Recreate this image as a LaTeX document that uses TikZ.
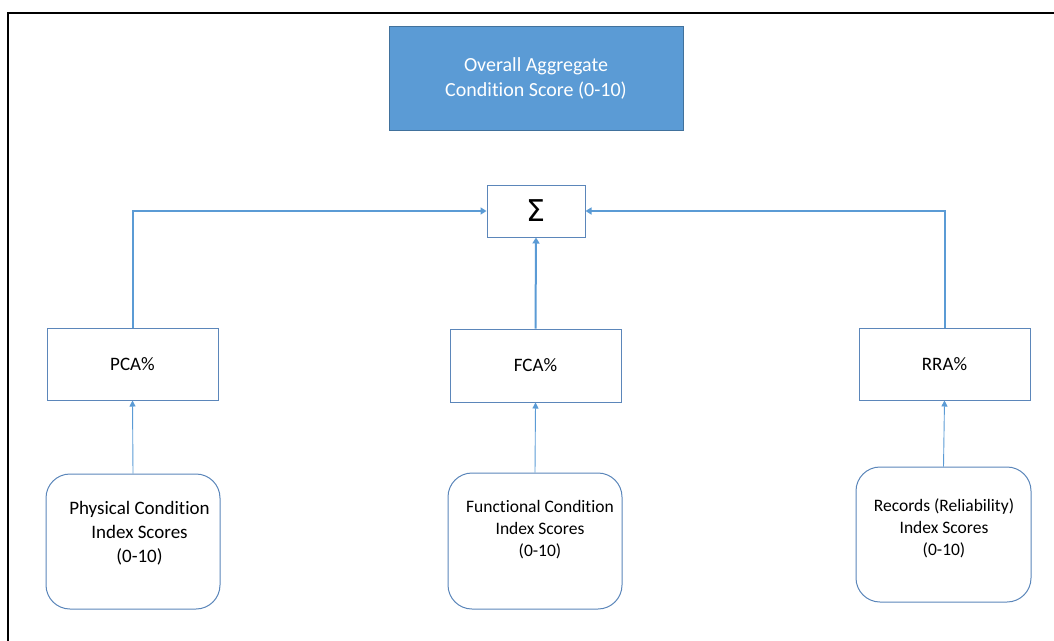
\documentclass[tikz,border=0pt]{standalone}
\usepackage{fontspec}
\setmainfont{Carlito}[Ligatures=NoCommon]
\newfontfamily\sigmafont{DejaVu Sans}
\usetikzlibrary{arrows.meta}
\definecolor{fillblue}{HTML}{5B9BD5}
\definecolor{edgeblue}{HTML}{41719C}
\definecolor{boxedge}{HTML}{5B86BA}
\definecolor{lineblue}{HTML}{5B9BD5}
\tikzset{
  sqbox/.style={draw=boxedge, line width=1pt, fill=white, inner sep=0pt},
  rbox/.style={draw=boxedge, line width=1pt, fill=white, inner sep=0pt, rounded corners=24pt},
  thick link/.style={draw=lineblue, line width=2pt, -{Triangle[length=6pt,width=7pt]}},
  thin link/.style={draw=lineblue, line width=0.9pt, -{Triangle[length=6pt,width=6pt]}},
  txt/.style={align=center, text=black, inner sep=0pt},
}
\begin{document}
\begin{tikzpicture}[x=1pt,y=-1pt]
\useasboundingbox (0,0) rectangle (1054,640);
\draw[line width=2pt, line cap=rect] (8.3,640) -- (8.3,13.3) -- (1054,13.3);

% top box
\node[draw=edgeblue, fill=fillblue, line width=1pt, minimum width=294pt, minimum height=104pt, inner sep=0pt,
      text=white, align=center, font=\fontsize{20}{25}\selectfont] (top) at (536,78)
  {Overall Aggregate\\Condition Score (0-10)};

% sigma box
\node[sqbox, minimum width=98pt, minimum height=52pt, font=\sigmafont\fontsize{30}{30}\selectfont] (sum) at (536,211) {Σ};

% middle boxes
\node[sqbox, minimum width=171pt, minimum height=72pt, font=\fontsize{19}{23}\selectfont] (pca) at (132.5,364) {PCA\%};
\node[sqbox, minimum width=171pt, minimum height=73pt, font=\fontsize{19}{23}\selectfont] (fca) at (535.5,365.5) {FCA\%};
\node[sqbox, minimum width=171pt, minimum height=72pt, font=\fontsize{19}{23}\selectfont] (rra) at (944.5,364) {RRA\%};

% bottom boxes
\node[rbox, minimum width=174pt, minimum height=135pt] (phys) at (133,541.5) {};
\node[rbox, minimum width=174pt, minimum height=136pt] (func) at (535,541) {};
\node[rbox, minimum width=175pt, minimum height=135pt] (rec) at (943.5,534.5) {};

\node[txt, font=\fontsize{19}{24}\selectfont] (physT) at (139.5,533) {Physical Condition\\Index Scores\\(0-10)};
\node[txt, font=\fontsize{17.5}{22}\selectfont] (funcT) at (540,530) {Functional Condition\\Index Scores\\(0-10)};
\node[txt, font=\fontsize{17.5}{22}\selectfont] (recT) at (944,528) {Records (Reliability)\\Index Scores\\(0-10)};

% connectors
\draw[thick link] (pca.north) |- (sum.west);
\draw[thick link] (fca.north) -- (sum.south);
\draw[thick link] (rra.north) |- (sum.east);

\draw[thin link] (phys.north) -- (pca.south);
\draw[thin link] (func.north) -- (fca.south);
\draw[thin link] (rec.north) -- (rra.south);
\end{tikzpicture}
\end{document}
